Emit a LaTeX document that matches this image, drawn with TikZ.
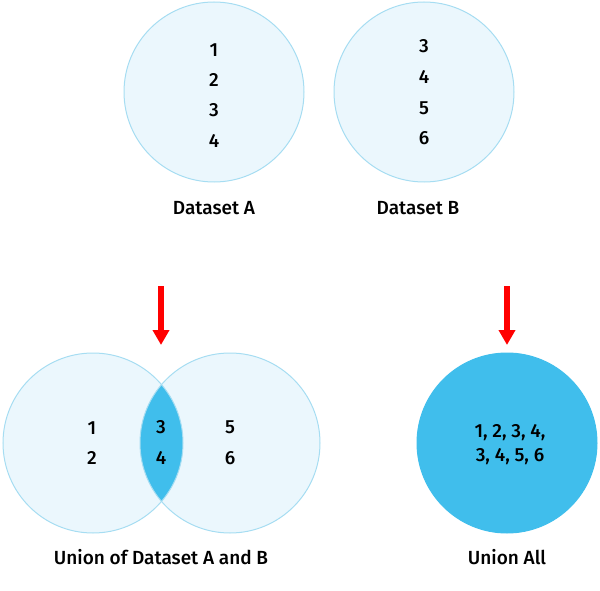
\documentclass[tikz,border=0pt]{standalone}
\usepackage{fontspec}
\setmainfont{Fira Sans}[UprightFont=* Medium]
\usetikzlibrary{arrows.meta,positioning}
\definecolor{setfill}{HTML}{EBF7FD}
\definecolor{setline}{HTML}{A6DDF2}
\definecolor{setdark}{HTML}{40BEEC}

\begin{document}
\begin{tikzpicture}[x=1pt,y=-1pt,
	set/.style={circle,draw=setline,fill=setfill,line width=1pt,minimum size=180pt,inner sep=0pt},
	num/.style={font=\fontsize{19}{24}\selectfont},
	lbl/.style={font=\fontsize{19}{19}\selectfont},
	down/.style={draw=red,line width=5.5pt,-{Triangle[width=16pt,length=15pt]}}]
					\useasboundingbox (0,0) rectangle (600,591);
					%TOP SETS
					\node[set](A) at (214,92){};
					\node[set](B) at (424,92){};
					\foreach \n/\y in {1/50,2/80,3/110,4/141}
						\node[num](a\n) at (214,\y){\n};
					\foreach \n/\y in {3/46,4/77,5/108,6/138}
						\node[num](b\n) at (424,\y){\n};
					\node[lbl](la) at (214,208){Dataset A};
					\node[lbl](lb) at (418,208){Dataset B};
					%UNION
					\node[set,draw=none](L) at (93,443){};
					\node[set,draw=none](R) at (230,443){};
					\begin{scope}
						\clip (L.center) circle (90);
						\fill[setdark] (R.center) circle (90);
					\end{scope}
					\draw[setline,line width=1pt] (L.center) circle (90) (R.center) circle (90);
					\node[num](u1) at (92,428){1};
					\node[num](u2) at (92,458){2};
					\node[num](u3) at (161,427){3};
					\node[num](u4) at (161,458){4};
					\node[num](u5) at (230,427){5};
					\node[num](u6) at (230,458){6};
					\node[lbl](lu) at (161,557){Union of Dataset A and B};
					%UNION ALL
					\node[set,draw=setdark,fill=setdark](U) at (507,443){};
					\node[num,align=center](all) at (510,445){1, 2, 3, 4,\\3, 4, 5, 6};
					\node[lbl](lall) at (507,557){Union All};
					%ARROWS
					\coordinate (s1) at (161,286);
					\coordinate (e1) at (161,345);
					\coordinate (s2) at (507,286);
					\coordinate (e2) at (507,345);
					\draw[down] (s1) -- (e1);
					\draw[down] (s2) -- (e2);
\end{tikzpicture}
\end{document}
